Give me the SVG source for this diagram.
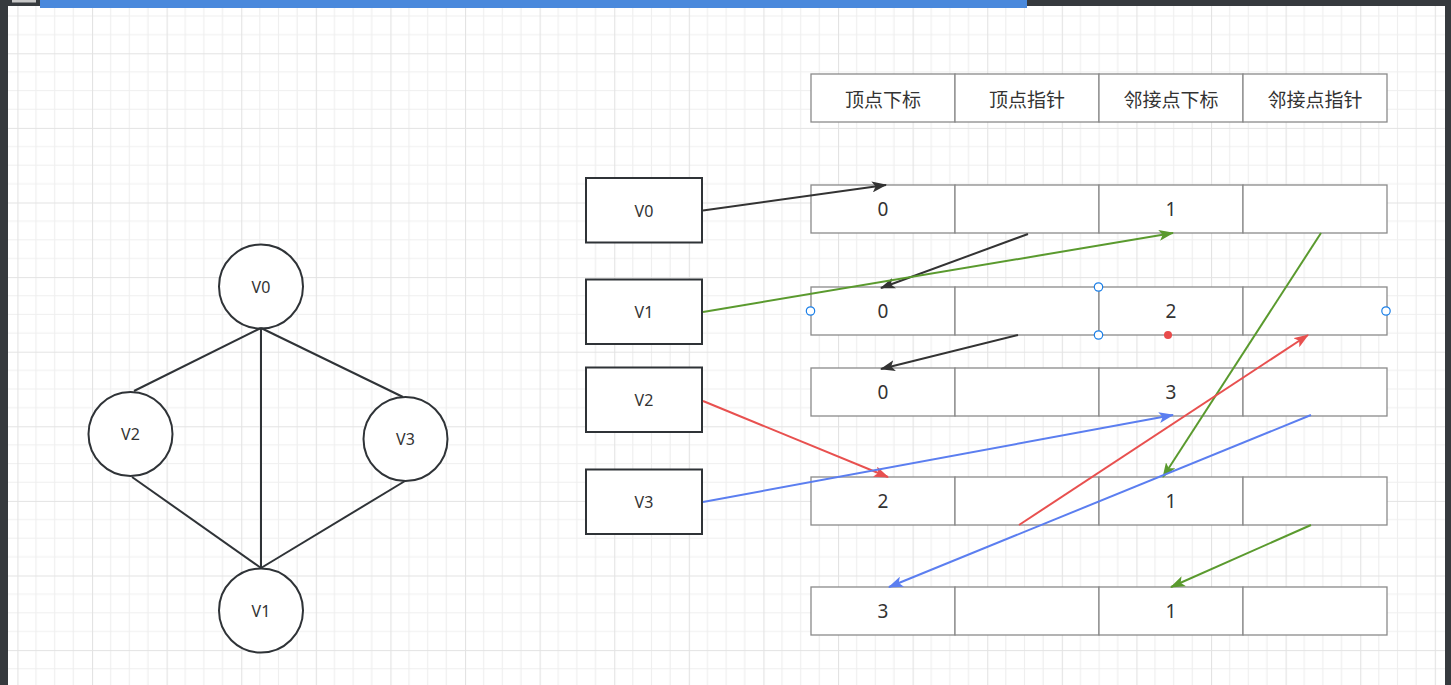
<svg xmlns="http://www.w3.org/2000/svg" width="1451" height="685" viewBox="0 0 1451 685">
<style>
.node circle,.box rect{fill:#fff;stroke:#2f3337;stroke-width:2}
.cell{fill:#fff;stroke:#8a8a8a;stroke-width:1.3}
.lbl{font-family:"Noto Sans","Noto Sans CJK SC",sans-serif;font-size:16px;fill:#333;text-anchor:middle;dominant-baseline:central}
.val{font-family:"Noto Sans","Noto Sans CJK SC",sans-serif;font-size:19px;fill:#333;text-anchor:middle;dominant-baseline:central}
.hdr{font-family:"Noto Sans CJK SC","Noto Sans",sans-serif;font-size:19px;fill:#333;text-anchor:middle;dominant-baseline:central}
.edge{stroke:#2f3337;stroke-width:2;fill:none}
.k{stroke:#333;stroke-width:2;fill:none;marker-end:url(#ah-k)}
.g{stroke:#5a9a2e;stroke-width:2;fill:none;marker-end:url(#ah-g)}
.r{stroke:#e8504f;stroke-width:2;fill:none;marker-end:url(#ah-r)}
.b{stroke:#5b7ef0;stroke-width:2;fill:none;marker-end:url(#ah-b)}
.h{fill:#fff;stroke:#1a7fe8;stroke-width:1.2}
</style>
<defs>
<pattern id="grid" x="17.4" y="53.3" width="74.6" height="74.6" patternUnits="userSpaceOnUse">
<path d="M18.65,0V74.6M37.3,0V74.6M55.95,0V74.6M0,18.65H74.6M0,37.3H74.6M0,55.95H74.6" stroke="#efefef" stroke-width="1.2"/>
<path d="M0.5,0V74.6M0,0.5H74.6" stroke="#e3e3e3" stroke-width="1.2"/>
</pattern>
<marker id="ah-k" viewBox="0 0 15 11" refX="14" refY="5.5" markerWidth="15" markerHeight="11" markerUnits="userSpaceOnUse" orient="auto"><path d="M0,0 L15,5.5 L0,11 L3.5,5.5 z" fill="#333"/></marker>
<marker id="ah-g" viewBox="0 0 15 11" refX="14" refY="5.5" markerWidth="15" markerHeight="11" markerUnits="userSpaceOnUse" orient="auto"><path d="M0,0 L15,5.5 L0,11 L3.5,5.5 z" fill="#5a9a2e"/></marker>
<marker id="ah-r" viewBox="0 0 15 11" refX="14" refY="5.5" markerWidth="15" markerHeight="11" markerUnits="userSpaceOnUse" orient="auto"><path d="M0,0 L15,5.5 L0,11 L3.5,5.5 z" fill="#e8504f"/></marker>
<marker id="ah-b" viewBox="0 0 15 11" refX="14" refY="5.5" markerWidth="15" markerHeight="11" markerUnits="userSpaceOnUse" orient="auto"><path d="M0,0 L15,5.5 L0,11 L3.5,5.5 z" fill="#5b7ef0"/></marker>
</defs>
<rect x="0" y="0" width="1451" height="685" fill="#363a3e"/>
<rect x="8" y="6" width="1437" height="679" fill="#fff"/>
<rect x="8" y="6" width="1437" height="679" fill="url(#grid)"/>
<rect x="40" y="0" width="987" height="8" fill="#4a89dc"/>
<rect x="12" y="0" width="24" height="2.5" fill="#c8c8c8"/>

<g id="node-v0" class="node"><circle cx="261" cy="286.5" r="42"/><text class="lbl" x="261" y="286.5">V0</text></g>
<g id="node-v2" class="node"><circle cx="130.5" cy="434" r="42"/><text class="lbl" x="130.5" y="434">V2</text></g>
<g id="node-v3" class="node"><circle cx="405.5" cy="439" r="42"/><text class="lbl" x="405.5" y="439">V3</text></g>
<g id="node-v1" class="node"><circle cx="261" cy="610.5" r="42"/><text class="lbl" x="261" y="610.5">V1</text></g>

<g id="box-v0" class="box"><rect x="586" y="178" width="116" height="64.5"/><text class="lbl" x="644" y="210.5">V0</text></g>
<g id="box-v1" class="box"><rect x="586" y="279.5" width="116" height="64.5"/><text class="lbl" x="644" y="311.5">V1</text></g>
<g id="box-v2" class="box"><rect x="586" y="367.5" width="116" height="64.5"/><text class="lbl" x="644" y="400">V2</text></g>
<g id="box-v3" class="box"><rect x="586" y="469.5" width="116" height="64.5"/><text class="lbl" x="644" y="502">V3</text></g>

<g id="row-header">
<rect class="cell" x="811" y="74" width="144" height="48"/><rect class="cell" x="955" y="74" width="144" height="48"/><rect class="cell" x="1099" y="74" width="144" height="48"/><rect class="cell" x="1243" y="74" width="144" height="48"/>
<text class="hdr" x="883" y="98">顶点下标</text><text class="hdr" x="1027" y="98">顶点指针</text><text class="hdr" x="1171" y="98">邻接点下标</text><text class="hdr" x="1315" y="98">邻接点指针</text>
</g>
<g id="row-0">
<rect class="cell" x="811" y="185" width="144" height="48"/><rect class="cell" x="955" y="185" width="144" height="48"/><rect class="cell" x="1099" y="185" width="144" height="48"/><rect class="cell" x="1243" y="185" width="144" height="48"/>
<text class="val" x="883" y="209">0</text><text class="val" x="1171" y="209">1</text>
</g>
<g id="row-1">
<rect class="cell" x="811" y="287" width="144" height="48"/><rect class="cell" x="955" y="287" width="144" height="48"/><rect class="cell" x="1099" y="287" width="144" height="48"/><rect class="cell" x="1243" y="287" width="144" height="48"/>
<text class="val" x="883" y="311">0</text><text class="val" x="1171" y="311">2</text>
</g>
<g id="row-2">
<rect class="cell" x="811" y="368" width="144" height="48"/><rect class="cell" x="955" y="368" width="144" height="48"/><rect class="cell" x="1099" y="368" width="144" height="48"/><rect class="cell" x="1243" y="368" width="144" height="48"/>
<text class="val" x="883" y="392">0</text><text class="val" x="1171" y="392">3</text>
</g>
<g id="row-3">
<rect class="cell" x="811" y="477" width="144" height="48"/><rect class="cell" x="955" y="477" width="144" height="48"/><rect class="cell" x="1099" y="477" width="144" height="48"/><rect class="cell" x="1243" y="477" width="144" height="48"/>
<text class="val" x="883" y="501">2</text><text class="val" x="1171" y="501">1</text>
</g>
<g id="row-4">
<rect class="cell" x="811" y="587" width="144" height="48"/><rect class="cell" x="955" y="587" width="144" height="48"/><rect class="cell" x="1099" y="587" width="144" height="48"/><rect class="cell" x="1243" y="587" width="144" height="48"/>
<text class="val" x="883" y="611">3</text><text class="val" x="1171" y="611">1</text>
</g>

<g id="connectors">
<path class="edge" d="M261,328 L134,391"/>
<path class="edge" d="M261,328 L403,397"/>
<path class="edge" d="M261,328 L261,568"/>
<path class="edge" d="M132,477 L261,568"/>
<path class="edge" d="M405,481 L261,568"/>
<path class="k" d="M703,210.5 L886,185"/>
<path class="k" d="M1028,234 L881,288"/>
<path class="g" d="M703,312 L1173,233"/>
<path class="g" d="M1321,233 L1163,477"/>
<path class="k" d="M1018,335 L881,369"/>
<path class="r" d="M703,401 L888,477"/>
<path class="r" d="M1019,525 L1308,335"/>
<path class="b" d="M703,502 L1173,415"/>
<path class="b" d="M1311,415 L889,587"/>
<path class="g" d="M1311,525 L1171,587"/>
</g>

<g id="selection">
<circle class="h" cx="810.5" cy="311" r="4.2"/>
<circle class="h" cx="1098.5" cy="287" r="4.2"/>
<circle class="h" cx="1098.5" cy="335" r="4.2"/>
<circle class="h" cx="1386" cy="311" r="4.2"/>
<circle cx="1168" cy="335" r="4" fill="#e84a4a"/>
</g>
</svg>
